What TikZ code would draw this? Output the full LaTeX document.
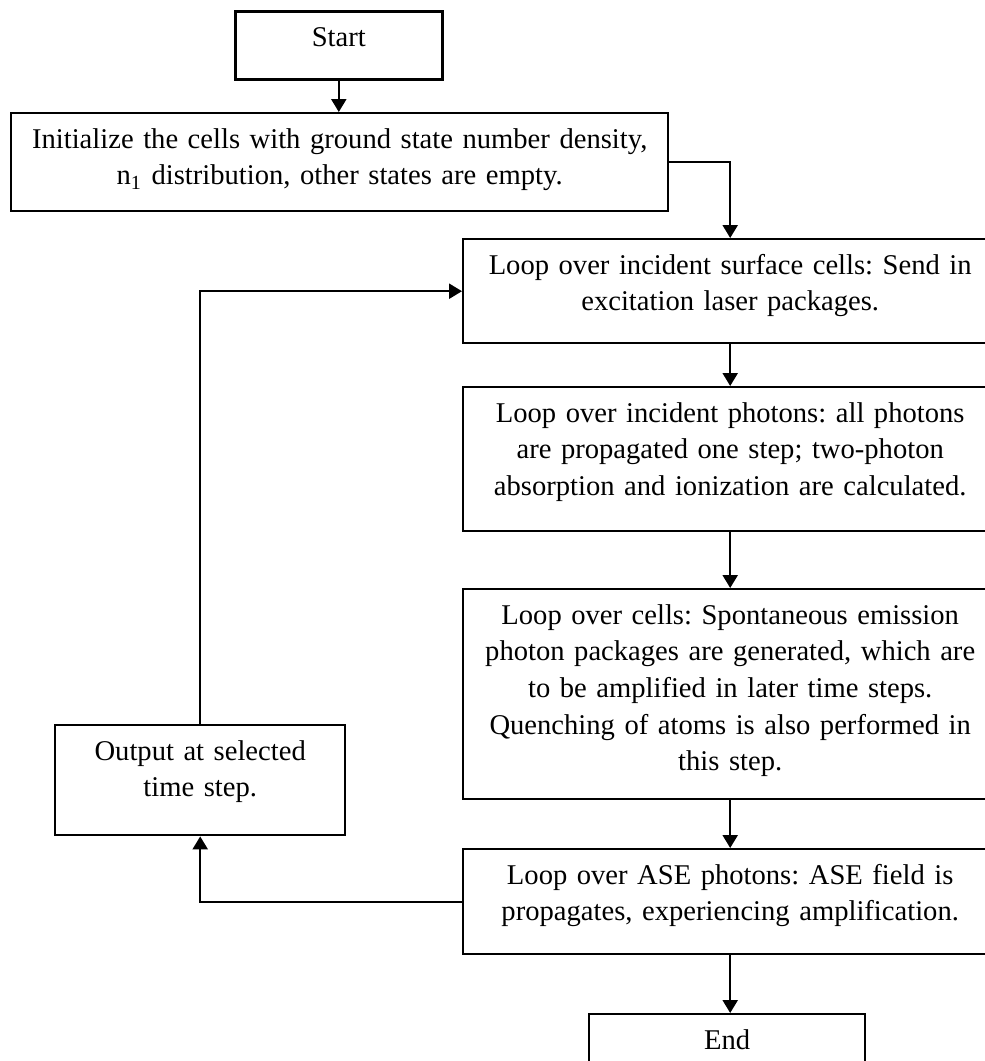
\documentclass[tikz,border=0pt]{standalone}
\usepackage{fontspec}
\setmainfont{Liberation Serif}
\usepackage{tikz}
\usetikzlibrary{arrows.meta}
\tikzset{
  stepbox/.style={draw, line width=1.2pt, inner sep=0pt, align=center,
    text height=17.5pt, font=\fontsize{14.3}{18.3}\selectfont},
  flowarrow/.style={-{Triangle[length=6.5pt,width=7.5pt]}, line width=1.2pt}
}

\begin{document}
\frenchspacing
\begin{tikzpicture}[x=0.5pt,y=-0.5pt]
            \useasboundingbox (0,0) rectangle (985,1061);
            % boxes of the time loop
            \node (start) at (234,10) [stepbox, anchor=north west, line width=1.3pt, text width=103.5pt, text depth=16.5pt]{Start};
            \node (init) at (10,112) [stepbox, anchor=north west, text width=328.5pt, text depth=31.5pt]{Initialize the cells with ground state number density,\\ n\textsubscript{1} distribution, other states are empty.};
            \node (send) at (462,238) [stepbox, anchor=north west, text width=267pt, text depth=34.5pt]{Loop over incident surface cells: Send in\\ excitation laser packages.};
            \node (prop) at (462,386) [stepbox, anchor=north west, text width=267pt, text depth=54.5pt]{Loop over incident photons: all photons\\ are propagated one step; two-photon\\ absorption and ionization are calculated.};
            \node (spont) at (462,588) [stepbox, anchor=north west, text width=267pt, text depth=87.5pt]{Loop over cells: Spontaneous emission\\ photon packages are generated, which are\\ to be amplified in later time steps.\\ Quenching of atoms is also performed in\\ this step.};
            \node (ase) at (462,848) [stepbox, anchor=north west, text width=267pt, text depth=35pt]{Loop over ASE photons: ASE field is\\ propagates, experiencing amplification.};
            \node (end) at (588,1013) [stepbox, anchor=north west, text width=138pt, text depth=16.5pt]{End};
            \node (output) at (54,724) [stepbox, anchor=north west, text width=145pt, text depth=37.5pt]{Output at selected\\ time step.};

            % straight arrows down the chain
            \draw[flowarrow] (start.south) -- (start.south |- init.north);
            \draw[flowarrow] (init.east) -| (send.north);
            \draw[flowarrow] (send) -- (prop);
            \draw[flowarrow] (prop) -- (spont);
            \draw[flowarrow] (spont) -- (ase);
            \draw[flowarrow] (ase.south) -- (ase.south |- end.north);

            % output and back to the start of the loop
            \draw[flowarrow] (ase.west) -| (output.south);
            \draw[flowarrow] (output.north) |- (send.west);
\end{tikzpicture}
\end{document}
